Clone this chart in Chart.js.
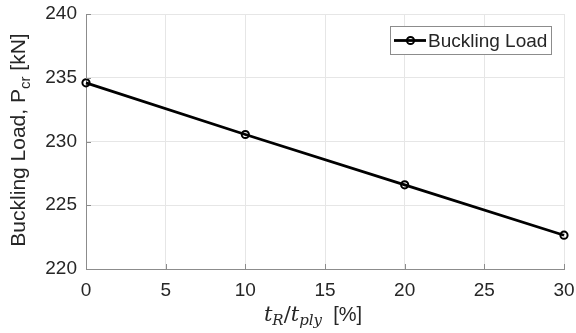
<!DOCTYPE html>
<html><head><meta charset="utf-8">
<script src="https://cdn.jsdelivr.net/npm/chart.js@4"></script>
<style>html,body{margin:0;padding:0;background:#fff}#wrap{width:576px;height:333px}</style>
</head><body><div id="wrap"><canvas id="c" width="576" height="333"></canvas></div>
<script>
const xValues = [0, 10, 20, 30];
const loadValues = [234.6, 230.55, 226.6, 222.65];
const xTicks = [0, 5, 10, 15, 20, 25, 30];
const yTicks = [220, 225, 230, 235, 240];
const seriesLabel = 'Buckling Load';

const FONT = '"Liberation Sans", Arial, sans-serif';
const TXT = '#262626';

const extras = {
  id: 'extras',
  afterDraw(chart) {
    const ctx = chart.ctx, a = chart.chartArea;
    const xs = chart.scales.x, ys = chart.scales.y;
    ctx.save();
    // inward ticks
    ctx.strokeStyle = '#8c8c8c'; ctx.lineWidth = 1;
    xTicks.forEach(v => { const px = Math.round(xs.getPixelForValue(v)) + 0.5;
      ctx.beginPath(); ctx.moveTo(px, a.bottom); ctx.lineTo(px, a.bottom - 5); ctx.stroke(); });
    yTicks.forEach(v => { const py = Math.round(ys.getPixelForValue(v)) + 0.5;
      ctx.beginPath(); ctx.moveTo(a.left, py); ctx.lineTo(a.left + 5, py); ctx.stroke(); });
    // legend
    const lx = 390, ly = 26, lw = 161, lh = 28;
    ctx.fillStyle = '#fff'; ctx.fillRect(lx, ly, lw, lh);
    ctx.strokeStyle = '#8c8c8c'; ctx.lineWidth = 1; ctx.strokeRect(lx + 0.5, ly + 0.5, lw, lh);
    const cy = ly + lh / 2 + 0.5;
    ctx.strokeStyle = '#000'; ctx.lineWidth = 2.8;
    ctx.beginPath(); ctx.moveTo(394, cy); ctx.lineTo(426, cy); ctx.stroke();
    ctx.lineWidth = 2; ctx.beginPath(); ctx.arc(410.5, cy, 3.6, 0, Math.PI * 2); ctx.stroke();
    ctx.fillStyle = TXT; ctx.font = '19px ' + FONT; ctx.textBaseline = 'middle'; ctx.textAlign = 'left';
    ctx.fillText(chart.data.datasets[0].label, 428, cy + 1);
    // y title
    ctx.save();
    ctx.translate(25, 140); ctx.rotate(-Math.PI / 2);
    ctx.textBaseline = 'alphabetic';
    const parts = [['Buckling Load, P', 21, 0], ['cr', 15, 5], [' [kN]', 21, 0]];
    let total = 0; parts.forEach(p => { ctx.font = p[1] + 'px ' + FONT; total += ctx.measureText(p[0]).width; });
    let x = -total / 2;
    parts.forEach(p => { ctx.font = p[1] + 'px ' + FONT; ctx.fillText(p[0], x, p[2]); x += ctx.measureText(p[0]).width; });
    ctx.restore();
    // x title
    const SER = '"DejaVu Serif", "Liberation Serif", serif';
    const xp = [['t', 'italic 21px ' + SER, 0], ['R', 'italic 15px ' + SER, 4], ['/', '21px ' + SER, 0],
                ['t', 'italic 21px ' + SER, 0], ['ply', 'italic 15px ' + SER, 4], ['  [%]', '20px ' + FONT, 0]];
    let tw = 0; xp.forEach(p => { ctx.font = p[1]; tw += ctx.measureText(p[0]).width; });
    let xx = 313 - tw / 2;
    ctx.textAlign = 'left'; ctx.textBaseline = 'alphabetic';
    xp.forEach(p => { ctx.font = p[1]; ctx.fillText(p[0], xx, 321 + p[2]); xx += ctx.measureText(p[0]).width; });
    ctx.restore();
  }
};

new Chart(document.getElementById('c'), {
  type: 'line',
  data: {
    datasets: [{
      label: seriesLabel,
      data: xValues.map((x, i) => ({ x: x, y: loadValues[i] })),
      borderColor: '#000', borderWidth: 2.8,
      pointRadius: 3.6, pointBorderWidth: 2, pointBorderColor: '#000',
      pointBackgroundColor: 'rgba(0,0,0,0)', tension: 0, clip: false
    }]
  },
  options: {
    responsive: false, animation: false,
    layout: { padding: { left: 0, top: 14, right: 12, bottom: 0 } },
    plugins: { legend: { display: false }, tooltip: { enabled: false } },
    scales: {
      x: {
        type: 'linear', min: 0, max: 30,
        afterBuildTicks: s => { s.ticks = xTicks.map(v => ({ value: v })); },
        afterFit: s => { s.height = 64; s.paddingLeft = 0; s.paddingRight = 0; },
        grid: { color: '#e6e6e6', drawTicks: false },
        border: { color: '#8c8c8c', width: 1 },
        ticks: { color: TXT, font: { family: FONT, size: 19 }, padding: 10, maxRotation: 0 }
      },
      y: {
        type: 'linear', min: 220, max: 240,
        afterBuildTicks: s => { s.ticks = yTicks.map(v => ({ value: v })); },
        afterFit: s => { s.width = 86; s.paddingTop = 0; s.paddingBottom = 0; },
        grid: { color: '#e6e6e6', drawTicks: false },
        border: { color: '#8c8c8c', width: 1 },
        ticks: { color: TXT, font: { family: FONT, size: 19 }, padding: 9 }
      }
    }
  },
  plugins: [extras]
});
</script></body></html>
